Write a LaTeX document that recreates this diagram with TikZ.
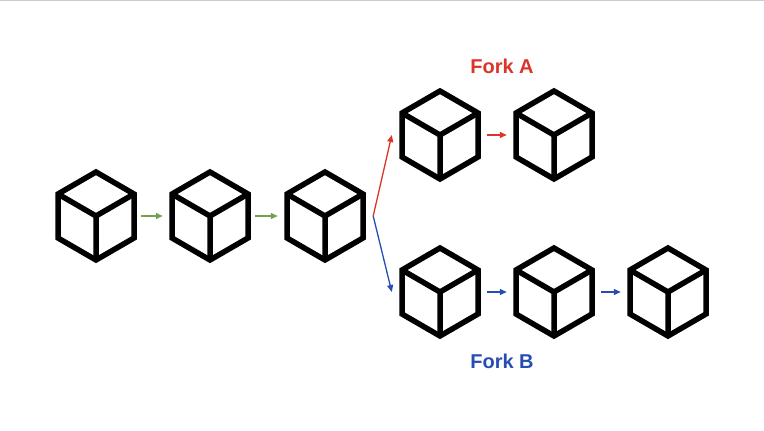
\documentclass[tikz,border=0pt]{standalone}
\usepackage{fontspec}
\setmainfont{Liberation Sans}
\usetikzlibrary{arrows.meta,calc}
\definecolor{fred}{RGB}{220,52,40}
\definecolor{fblue}{RGB}{38,78,178}
\definecolor{fgreen}{RGB}{112,162,82}
\tikzset{
  blk/.style={minimum width=80pt,minimum height=92pt,inner sep=0pt},
  cubeline/.style={line width=5.5pt,line join=miter,black},
  link/.style={line width=1.3pt,-{Triangle[length=7pt,width=6pt]}},
  lbl/.style={font=\bfseries\fontsize{20}{24}\selectfont}
}
\newcommand{\drawcube}[1]{%
  \draw[cubeline] ($(#1.center)+(0,-44)$) -- ($(#1.center)+(38,-22)$) -- ($(#1.center)+(38,22)$) -- ($(#1.center)+(0,44)$) -- ($(#1.center)+(-38,22)$) -- ($(#1.center)+(-38,-22)$) -- cycle;
  \draw[cubeline] ($(#1.center)+(-38,-22)$) -- (#1.center) -- ($(#1.center)+(38,-22)$) (#1.center) -- ($(#1.center)+(0,44)$);}
\begin{document}
\begin{tikzpicture}[x=1pt,y=-1pt]
\useasboundingbox (0,0) rectangle (764,431);
\draw[gray!40,line width=0.8pt] (0,0.5) -- (764,0.5);
\node[blk] (c1) at (96,216) {};
\node[blk] (c2) at (210,216) {};
\node[blk] (c3) at (325,216) {};
\node[blk] (a1) at (440,135) {};
\node[blk] (a2) at (554,135) {};
\node[blk] (b1) at (440,292) {};
\node[blk] (b2) at (554,292) {};
\node[blk] (b3) at (668,292) {};
\foreach \c in {c1,c2,c3,a1,a2,b1,b2,b3}{\drawcube{\c}}
\draw[link,fgreen] ($(c1.east)+(5,0)$) -- ($(c2.west)+(-7,0)$);
\draw[link,fgreen] ($(c2.east)+(5,0)$) -- ($(c3.west)+(-7,0)$);
\coordinate (fk) at ($(c3.east)+(8,0)$);
\draw[link,fred] (fk) -- ($(a1.west)+(-8,0)$);
\draw[link,fblue] (fk) -- ($(b1.west)+(-8,0)$);
\draw[link,fred] ($(a1.east)+(7,0)$) -- ($(a2.west)+(-7,0)$);
\draw[link,fblue] ($(b1.east)+(7,0)$) -- ($(b2.west)+(-7,0)$);
\draw[link,fblue] ($(b2.east)+(7,0)$) -- ($(b3.west)+(-7,0)$);
\node[lbl,text=fred] (la) at (502,66) {Fork A};
\node[lbl,text=fblue] (lb) at (502,361) {Fork B};
\end{tikzpicture}
\end{document}
